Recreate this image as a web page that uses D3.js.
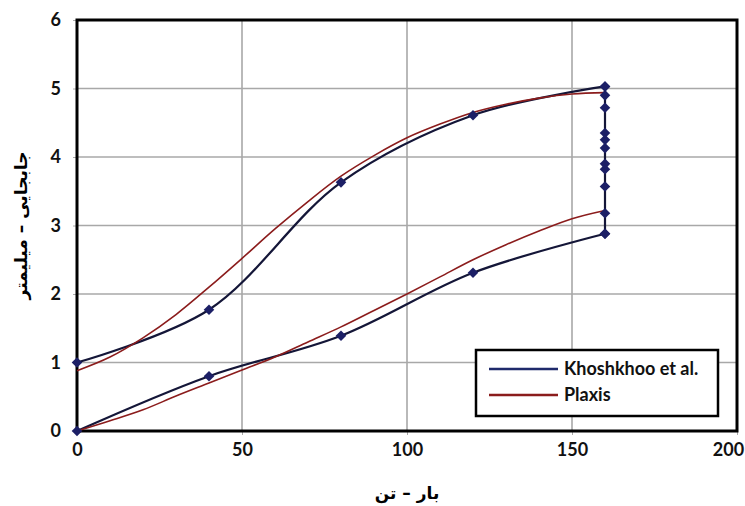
<!DOCTYPE html>
<html><head><meta charset="utf-8">
<script src="https://cdn.jsdelivr.net/npm/d3@7"></script>
<style>body{margin:0;background:#fff}</style>
</head><body><svg id="c" width="745" height="506"></svg>
<script>
const xTicks=[0,50,100,150,200];
const yTicks=[0,1,2,3,4,5,6];
const seriesNames=["Khoshkhoo et al.","Plaxis"];
const khLoadX=[0,40,80,120,160];
const khLoadY=[0,0.8,1.39,2.31,2.88];
const khHoldY=[2.88,3.18,3.57,3.82,3.9,4.13,4.25,4.35,4.72,4.9,5.03];
const khUnloadX=[160,120,80,40,0];
const khUnloadY=[5.03,4.61,3.63,1.77,1.0];
const plaxisX=[0,10,20,30,40,50,60,70,80,90,100,110,120,130,140,150,160];
const plaxisLoadY=[0,0.15,0.31,0.51,0.7,0.89,1.08,1.3,1.52,1.76,2.0,2.25,2.5,2.72,2.92,3.1,3.22];
const plaxisUnloadY=[0.88,1.08,1.36,1.7,2.1,2.52,2.95,3.35,3.72,4.02,4.28,4.48,4.65,4.77,4.86,4.92,4.94];

const svg=d3.select("#c");
const x=d3.scaleLinear().domain([0,200]).range([77,737]);
const y=d3.scaleLinear().domain([0,6]).range([431,20]);
const blue="#141638", red="#8b1c1c", mark="#1c1f66";

// grid
svg.append("g").selectAll("line").data(xTicks.slice(1,-1)).join("line")
  .attr("x1",d=>x(d)).attr("x2",d=>x(d)).attr("y1",y(6)).attr("y2",y(0))
  .attr("stroke","#a8a8a8").attr("stroke-width",1.6);
svg.append("g").selectAll("line").data(yTicks.slice(1,-1)).join("line")
  .attr("y1",d=>y(d)).attr("y2",d=>y(d)).attr("x1",x(0)).attr("x2",x(200))
  .attr("stroke","#a8a8a8").attr("stroke-width",1.6);

// axes
const font="Lato, 'Open Sans', sans-serif";
const xa=svg.append("g").attr("transform",`translate(0,${y(0)})`)
  .call(d3.axisBottom(x).tickValues(xTicks).tickFormat(d3.format("d")).tickSize(4).tickPadding(8));
const ya=svg.append("g").attr("transform",`translate(${x(0)},0)`)
  .call(d3.axisLeft(y).tickValues(yTicks).tickFormat(d3.format("d")).tickSize(4).tickPadding(12));
[xa,ya].forEach(a=>{
  a.select(".domain").remove();
  a.selectAll(".tick line").attr("stroke","#aaa").attr("stroke-width",1);
  a.selectAll("text").attr("font-family",font).attr("font-weight","bold")
    .attr("font-size",18).attr("fill","#111");
});
xa.selectAll(".tick text").filter(d=>d===200).attr("dx",-9);

// border
svg.append("rect").attr("x",x(0)).attr("y",y(6)).attr("width",x(200)-x(0)).attr("height",y(0)-y(6))
  .attr("fill","none").attr("stroke","#000").attr("stroke-width",3);

const line=d3.line().x(d=>x(d[0])).y(d=>y(d[1])).curve(d3.curveCatmullRom.alpha(0.5));
const lin=d3.line().x(d=>x(d[0])).y(d=>y(d[1]));

const plLoad=plaxisX.map((v,i)=>[v,plaxisLoadY[i]]);
const plUnload=plaxisX.map((v,i)=>[v,plaxisUnloadY[i]]);
const kLoad=khLoadX.map((v,i)=>[v,khLoadY[i]]);
const kHold=khHoldY.map(v=>[160,v]);
const kUnload=khUnloadX.map((v,i)=>[v,khUnloadY[i]]);

[kLoad,kUnload].forEach(d=>svg.append("path").attr("d",line(d)).attr("fill","none")
  .attr("stroke",blue).attr("stroke-width",2.2));
svg.append("path").attr("d",lin(kHold)).attr("fill","none").attr("stroke",blue).attr("stroke-width",2.2);

[plLoad,plUnload].forEach(d=>svg.append("path").attr("d",line(d)).attr("fill","none")
  .attr("stroke",red).attr("stroke-width",1.6));

const pts=kLoad.concat(kHold,kUnload);
svg.append("g").selectAll("path").data(pts).join("path")
  .attr("transform",d=>`translate(${x(d[0])},${y(d[1])}) rotate(45)`)
  .attr("d",d3.symbol(d3.symbolSquare,56)())
  .attr("fill",mark);

// legend
const lg=svg.append("g");
lg.append("rect").attr("x",476).attr("y",350).attr("width",242).attr("height",66)
  .attr("fill","#fff").attr("stroke","#000").attr("stroke-width",2.5);
const lc=["#1f2a6b",red];
seriesNames.forEach((n,i)=>{
  const yy=369+i*26;
  lg.append("line").attr("x1",489).attr("x2",558).attr("y1",yy).attr("y2",yy)
    .attr("stroke",lc[i]).attr("stroke-width",2.5);
  lg.append("text").attr("x",564).attr("y",yy).attr("dy","0.35em").text(n)
    .attr("font-family",font).attr("font-weight","bold").attr("font-size",18).attr("fill","#111");
});

// titles
svg.append("text").attr("x",(x(0)+x(200))/2).attr("y",493).attr("text-anchor","middle")
  .attr("dy","0.35em").attr("font-family","'DejaVu Sans', sans-serif").attr("font-weight","bold")
  .attr("font-size",17).attr("direction","rtl").text("بار – تن");
svg.append("text").attr("transform",`translate(21,${(y(0)+y(6))/2}) rotate(-90)`)
  .attr("text-anchor","middle").attr("dy","0.35em").attr("font-family","'DejaVu Sans', sans-serif")
  .attr("font-weight","bold").attr("font-size",17).attr("direction","rtl").text("جابجایی – میلیمتر");
</script></body></html>
